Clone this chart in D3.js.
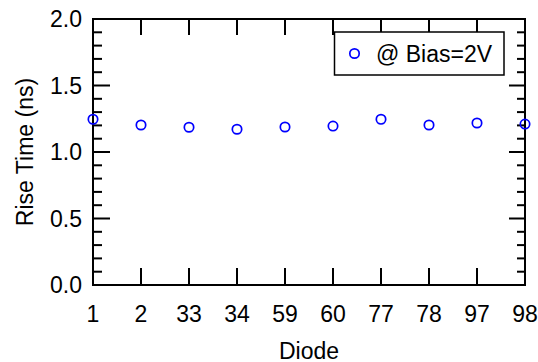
<!DOCTYPE html>
<html><head><meta charset="utf-8">
<script src="https://cdn.jsdelivr.net/npm/d3@7"></script>
<style>
body{margin:0;background:#fff;}
text{font-family:"Liberation Sans",Arial,sans-serif;fill:#000;}
</style></head>
<body><svg id="c" width="538" height="362"></svg>
<script>
const diodes = ["1","2","33","34","59","60","77","78","97","98"];
const riseTime = [1.246,1.203,1.186,1.171,1.188,1.195,1.246,1.203,1.218,1.210];
const yMajorTicks = [0.0,0.5,1.0,1.5,2.0];
const seriesLabel = "@ Bias=2V";

const W=538,H=362, m={l:93,r:13,t:19,b:77};
const svg=d3.select("#c");
const x=d3.scalePoint().domain(diodes).range([m.l,W-m.r]).padding(0);
const y=d3.scaleLinear().domain([0,2]).range([H-m.b,m.t]);
const minor=d3.range(0,2.0001,0.1).map(v=>+v.toFixed(1));
const fs=23;

const g=svg.append("g").attr("stroke","#000").attr("stroke-width",2);
minor.forEach(v=>{
  const isMaj = Math.abs(v*2-Math.round(v*2))<1e-6;
  g.append("line").attr("x1",m.l).attr("x2",m.l+(isMaj?17:9)).attr("y1",y(v)).attr("y2",y(v));
  g.append("line").attr("x1",W-m.r).attr("x2",W-m.r-(isMaj?16:8)).attr("y1",y(v)).attr("y2",y(v));
});
diodes.forEach(d=>{
  g.append("line").attr("x1",x(d)).attr("x2",x(d)).attr("y1",H-m.b).attr("y2",H-m.b-17);
  g.append("line").attr("x1",x(d)).attr("x2",x(d)).attr("y1",m.t).attr("y2",m.t+16);
});
svg.append("rect").attr("x",m.l).attr("y",m.t).attr("width",W-m.r-m.l).attr("height",H-m.b-m.t)
  .attr("fill","none").attr("stroke","#000").attr("stroke-width",2);

svg.append("g").selectAll("text").data(yMajorTicks).join("text")
  .attr("x",82).attr("y",d=>y(d)).attr("dy","0.36em").attr("text-anchor","end")
  .attr("font-size",fs).text(d=>d.toFixed(1));
svg.append("g").selectAll("text").data(diodes).join("text")
  .attr("x",d=>x(d)).attr("y",321.5).attr("text-anchor","middle")
  .attr("font-size",fs).text(d=>d);

svg.append("text").attr("x",(m.l+W-m.r)/2).attr("y",358.5).attr("text-anchor","middle")
  .attr("font-size",fs).text("Diode");
svg.append("text").attr("transform",`translate(32.5,${(m.t+H-m.b)/2}) rotate(-90)`)
  .attr("text-anchor","middle").attr("font-size",fs).text("Rise Time (ns)");

svg.append("g").selectAll("circle").data(diodes).join("circle")
  .attr("cx",d=>x(d)).attr("cy",(d,i)=>y(riseTime[i])).attr("r",4.7)
  .attr("fill","none").attr("stroke","#0000ff").attr("stroke-width",1.7);

svg.append("rect").attr("x",334.5).attr("y",32).attr("width",169.5).attr("height",43)
  .attr("fill","#fff").attr("stroke","#000").attr("stroke-width",1.5);
svg.append("circle").attr("cx",354.5).attr("cy",53.5).attr("r",4.7)
  .attr("fill","none").attr("stroke","#0000ff").attr("stroke-width",1.7);
svg.append("text").attr("x",376).attr("y",53.5).attr("dy","0.36em").attr("font-size",fs).text(seriesLabel);
</script></body></html>
